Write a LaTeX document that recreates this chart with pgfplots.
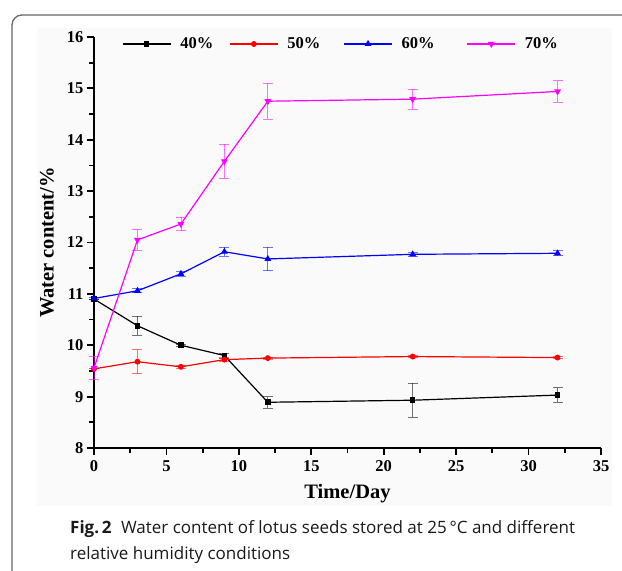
\documentclass[border=0pt]{standalone}
\usepackage{fontspec}
\setmainfont{Open Sans}
\newfontfamily\tnr{Liberation Serif}
\usepackage{pgfplots}
\usepackage{pgfplotstable}
\pgfplotsset{compat=1.18}
\definecolor{panelbg}{RGB}{250,250,250}
\definecolor{mag}{RGB}{255,0,255}
\definecolor{rd}{RGB}{255,0,0}
\definecolor{bl}{RGB}{0,0,255}

\pgfplotstableread{
x y e
0 10.90 0
3 10.38 0.19
6 10.00 0.02
9 9.80 0.05
12 8.89 0.11
22 8.93 0.33
32 9.03 0.14
}\tforty
\pgfplotstableread{
x y e
0 9.54 0
3 9.68 0.23
6 9.58 0.03
9 9.72 0.04
12 9.75 0.02
22 9.78 0.02
32 9.76 0.02
}\tfifty
\pgfplotstableread{
x y e
0 10.91 0.02
3 11.06 0.04
6 11.39 0.05
9 11.82 0.09
12 11.68 0.23
22 11.77 0.04
32 11.79 0.05
}\tsixty
\pgfplotstableread{
x y e
0 9.56 0.23
3 12.05 0.20
6 12.36 0.13
9 13.58 0.33
12 14.75 0.35
22 14.79 0.19
32 14.94 0.21
}\tseventy

\begin{document}
\begin{tikzpicture}[x=1pt,y=1pt]
\path[use as bounding box] (0,0) rectangle (622,571);
\fill[panelbg] (37,65) rectangle (612,543);
\draw[black!60, line width=1.3pt, rounded corners=10pt] (12,-10) -- (12,556) -- (640,556);
\begin{axis}[
  at={(94pt,123pt)}, anchor=origin,
  scale only axis, width=507pt, height=411pt,
  xmin=0, xmax=35, ymin=8, ymax=16,
  axis x line*=bottom, axis y line*=left,
  axis line style={line width=1.8pt, -},
  xtick={0,5,...,35}, ytick={8,9,...,16},
  minor x tick num=1, minor y tick num=1,
  tick align=outside,
  major tick length=7pt, minor tick length=4.5pt,
  every tick/.style={line width=1.8pt, black},
  /pgf/number format/assume math mode=true,
  tick label style={font=\tnr\bfseries\fontsize{16.5}{16.5}\selectfont},
  xticklabel style={yshift=-2pt},
  xlabel={Time/Day}, ylabel={Water content/\%},
  label style={font=\tnr\bfseries\fontsize{20.5}{20.5}\selectfont},
  xlabel style={at={(rel axis cs:0.5,0)}, anchor=center, yshift=-46pt},
  ylabel style={at={(rel axis cs:0,0.5)}, anchor=center, rotate=0, yshift=47pt},
  clip=false,
  legend columns=4,
  legend style={at={(rel axis cs:0.055,0.983)}, anchor=west, draw=none, fill=none,
    inner sep=0pt, column sep=0pt, nodes={inner xsep=0pt},
    font=\tnr\bfseries\fontsize{16.5}{16.5}\selectfont},
  legend image code/.code={\draw[mark repeat=2,mark phase=2,#1] plot coordinates {(0pt,0pt) (24pt,0pt) (48pt,0pt)};},
  every axis plot/.append style={line width=1.2pt},
  error bars/error bar style={line width=0.8pt, opacity=0.55},
  error bars/error mark options={rotate=90, mark size=5pt, line width=0.8pt, opacity=0.55},
]
\addplot[black, mark=square*, mark size=2.2pt, mark options={solid},
  error bars/.cd, y dir=both, y explicit] table[x=x, y=y, y error=e] {\tforty};
\addlegendentry{\rule{9pt}{0pt}40\%\rule{16pt}{0pt}}
\addplot[rd, mark=*, mark size=2.3pt, mark options={solid},
  error bars/.cd, y dir=both, y explicit] table[x=x, y=y, y error=e] {\tfifty};
\addlegendentry{\rule{9pt}{0pt}50\%\rule{23pt}{0pt}}
\addplot[bl, mark=triangle*, mark size=2.8pt, mark options={solid},
  error bars/.cd, y dir=both, y explicit] table[x=x, y=y, y error=e] {\tsixty};
\addlegendentry{\rule{9pt}{0pt}60\%\rule{32pt}{0pt}}
\addplot[mag, mark=triangle*, mark size=2.8pt, mark options={solid, rotate=180},
  error bars/.cd, y dir=both, y explicit] table[x=x, y=y, y error=e] {\tseventy};
\addlegendentry{\rule{9pt}{0pt}70\%}
\end{axis}
\node[anchor=base west, font=\fontsize{17}{21}\selectfont, inner sep=0pt, text=black!90] at (70,37) {\textbf{Fig.\,2}\hspace{0.55em}Water content of lotus seeds stored at 25\,°C and different};
\node[anchor=base west, font=\fontsize{17}{21}\selectfont, inner sep=0pt, text=black!90] at (70,11) {relative humidity conditions};
\end{tikzpicture}
\end{document}
